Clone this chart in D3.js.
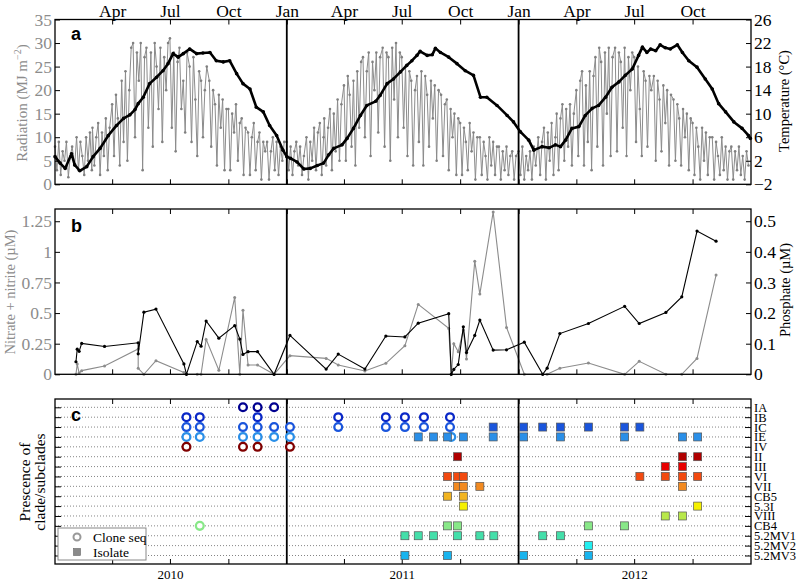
<!DOCTYPE html>
<html>
<head>
<meta charset="utf-8">
<script src="https://cdn.jsdelivr.net/npm/d3@7"></script>
<style>
body { margin: 0; background: #fff; }
text { font-family: "Liberation Serif", "Times New Roman", serif; }
</style>
</head>
<body>
<script>
// ---- data (days counted from 1 Jan 2010) ----
// radiation: 10 readings per month, every 3 days from the 1st
const rad2010 = [
  8,3,9,2,7,5,9,1.5,6,8,   4,10,3,9,6,2,10,5,11,3,   12,4,10,13,2,11,6,14,3,12,
  17,6,19,14,4,22,9,24,5,20,   29,30,10,28,22,30,3,27,29,12,   28,8,30,25,16,29,9,27,20,30,
  31,12,28,7,26,29,16,22,11,28,   25,9,27,18,6,24,22,10,20,25,   22,8,20,17,4,19,12,18,3,16,
  16,3,15,11,17,5,13,14,2,12,   11,2,10,13,3,9,11,1,9,7,   9,1,7,10,3,9,2,8,5,9];
const rad2011 = [
  9,3,8,2,7,9,4,8,2,6,   10,1,9,5,12,3,11,13,2,10,   14,4,12,16,3,15,7,18,5,17,
  21,5,23,19,8,22,4,24,12,26,   27,10,24,28,6,26,20,28,11,27,   29,8,28,27,5,29,18,30,10,28,
  27,12,25,6,24,22,4,20,23,9,   24,4,23,19,8,22,14,21,5,20,   19,6,17,18,3,16,10,15,2,14,
  13,2,12,9,3,13,7,11,1,10,   10,2,9,6,1,10,4,9,2,8,   8,1,7,3,8,2,6,7,1,6];
const rad2012 = [
  7,2,8,1,6,3,7,1,8,4,   10,2,9,12,1,11,5,13,2,10,   15,3,14,17,5,16,8,17,4,15,
  20,6,22,24,4,21,9,24,3,23,   27,8,29,26,4,28,15,29,6,27,   29,7,28,26,12,29,6,27,20,28,
  27,9,25,16,6,24,22,8,23,20,   23,5,22,18,7,21,13,20,4,19,   18,5,17,14,4,16,10,15,3,14,
  13,2,12,8,1,12,5,11,2,10,   10,1,9,6,2,10,3,8,1,7,   8,1,7,3,8,2,6,1,7,4];

const tempDays = [0,8,16,26,31,39,50,60,71,84,97,108,118,126,131,139,149,160,170,178,186,194,202,212,223,
  233,244,254,265,275,286,296,307,317,328,338,349,359,365,
  371,381,392,402,413,423,431,439,452,460,470,481,491,505,512,523,533,544,554,562,570,575,586,594,599,
  607,620,633,646,659,670,680,696,712,722,733,
  746,754,767,778,788,796,804,814,825,835,846,856,867,877,888,898,909,919,925,932,938,946,953,961,969,
  980,988,998,1011,1024,1035,1045,1056,1069,1082,1092,1095];
const tempValues = [2.7,1.6,0.7,3.2,1.3,0.3,1.0,2.7,4.1,6.3,8.0,9.2,9.8,10.7,11.7,12.8,15.1,16.2,17.3,18.5,20.2,19.6,20.2,21.0,20.2,
  20.3,20.4,19.0,18.8,19.0,16.8,15.1,14.2,11.1,10.3,8.0,6.3,3.8,2.7,
  2.4,1.8,0.6,0.7,1.2,1.6,3.0,4.1,4.7,5.8,7.5,9.7,11.4,12.1,13.1,15.1,15.9,17.1,18.2,19.0,19.9,20.6,19.9,20.0,21.1,
  20.4,19.6,18.5,17.3,16.5,12.8,12.8,11.4,9.7,8.6,6.9,
  5.5,3.8,4.4,4.2,4.7,4.4,5.5,7.5,7.8,9.7,10.9,11.4,12.8,14.5,15.4,16.5,17.6,19.9,21.3,20.4,21.0,20.7,21.7,21.2,21.0,
  21.7,20.4,19.0,17.9,15.9,14.2,11.7,10.3,8.6,7.5,6.3,5.8];

const nutrientDays = [33,35,38,42,78,131,131,140,159,203,207,224,230,238,258,283,291,296,304,319,345,370,
  427,446,488,521,551,572,620,624,628,635,643,648,661,669,690,711,739,768,775,795,840,897,920,962,987,1011,1041];
const phosphate = [0.041,0.082,0.075,0.101,0.091,0.103,0.067,0.203,0.213,0.034,0,0.107,0.092,0.174,0.118,0.159,0.115,
  0.065,0.074,0.074,0,0.127,0.017,0.066,0.017,0.125,0.122,0.167,0.198,0,0.016,0.032,0.155,0.071,0.127,0.177,0.079,
  0.080,0.105,0,0.02,0.133,0.166,0.222,0.166,0.202,0.253,0.468,0.435];
const nitrate = [0,0.084,0.01,0.03,0.068,0.207,0.049,0,0.111,0.014,0,0,0,0.285,0.033,0.628,0,0.524,0.076,0.076,0,
  0.152,0.130,0.076,0.027,0.090,0.234,0.571,0.375,0,0.25,0.185,0.361,0.125,0.924,0.655,1.326,0.383,0,0,0,0.049,
  0.092,0,0.106,0,0,0.130,0.81];

const clades = ["IA","IB","IC","IE","IV","II","III","VI","VII","CB5","5.3I","VIII","CB4","5.2MV1","5.2MV2","5.2MV3"];
const cladeColors = ["#000090","#0a28c8","#1a55dc","#2a8fe8","#800000","#b00000","#e80000","#f24a10","#f28a20",
  "#f2b420","#f5f000","#b8e84a","#88e888","#44dfaa","#22eef0","#18b4ee"];

const cloneSeq = [
  [296,"IA"],[319,"IA"],[345,"IA"],
  [207,"IB"],[228,"IB"],[319,"IB"],[446,"IB"],[521,"IB"],[551,"IB"],[581,"IB"],[622,"IB"],
  [207,"IC"],[228,"IC"],[296,"IC"],[319,"IC"],[345,"IC"],[370,"IC"],[446,"IC"],[521,"IC"],[551,"IC"],[581,"IC"],[622,"IC"],
  [207,"IE"],[228,"IE"],[296,"IE"],[319,"IE"],[345,"IE"],[370,"IE"],[624,"IE"],
  [207,"IV"],[296,"IV"],[319,"IV"],[370,"IV"],
  [228,"CB4"]];
const isolates = [
  [690,"IC"],[738,"IC"],[768,"IC"],[796,"IC"],[840,"IC"],[897,"IC"],[921,"IC"],
  [572,"IE"],[596,"IE"],[618,"IE"],[643,"IE"],[690,"IE"],[738,"IE"],[796,"IE"],[897,"IE"],[988,"IE"],[1012,"IE"],
  [634,"II"],[988,"II"],[1012,"II"],
  [961,"III"],[988,"III"],
  [618,"VI"],[634,"VI"],[643,"VI"],[921,"VI"],[961,"VI"],[988,"VI"],[1012,"VI"],
  [634,"VII"],[643,"VII"],[669,"VII"],[988,"VII"],
  [618,"CB5"],[643,"CB5"],
  [643,"5.3I"],[1012,"5.3I"],
  [961,"VIII"],[988,"VIII"],
  [618,"CB4"],[634,"CB4"],[840,"CB4"],[897,"CB4"],
  [551,"5.2MV1"],[572,"5.2MV1"],[596,"5.2MV1"],[634,"5.2MV1"],[669,"5.2MV1"],[691,"5.2MV1"],[768,"5.2MV1"],[796,"5.2MV1"],
  [840,"5.2MV2"],
  [551,"5.2MV3"],[618,"5.2MV3"],[738,"5.2MV3"],[840,"5.2MV3"]];

// ---- layout ----
const W = 798, H = 581, L = 55, R = 751;
const pa = {top: 19.5, bottom: 184.3}, pb = {top: 209, bottom: 374.3}, pc = {top: 399, bottom: 564};
const GRAY = "#8c8c8c";

const day = d => new Date(2010, 0, 1 + d);
const x = d3.scaleTime().domain([new Date(2010,0,1), new Date(2013,0,1)]).range([L, R]);

const monthTicks = [], janLines = [new Date(2011,0,1), new Date(2012,0,1)];
[2010, 2011, 2012].forEach(y => {
  if (y > 2010) monthTicks.push(new Date(y, 0, 1));
  [3, 6, 9].forEach(m => monthTicks.push(new Date(y, m, 1)));
});

const svg = d3.select("body").append("svg").attr("width", W).attr("height", H);

// radiation series
const radiation = [];
[[2010, rad2010], [2011, rad2011], [2012, rad2012]].forEach(([yr, vals]) => {
  vals.forEach((v, i) => radiation.push({date: new Date(yr, Math.floor(i / 10), 1 + 3 * (i % 10)), v: v}));
});
const temperature = tempDays.map((d, i) => ({date: day(d), v: tempValues[i]}));
const nutrients = nutrientDays.map((d, i) => ({date: day(d), p: phosphate[i], n: nitrate[i]}));

function styleAxis(g, size, color) {
  g.select(".domain").remove();
  g.selectAll("line").attr("stroke", "#000");
  g.selectAll("text").attr("font-size", size).attr("fill", color || "#000")
    .attr("font-family", "Liberation Serif, serif");
}

function timeFrame(p, topLabels, bottomLabels) {
  const top = svg.append("g").attr("transform", `translate(0,${p.top})`)
    .call(d3.axisTop(x).tickValues(monthTicks).tickSize(-5).tickPadding(3)
      .tickFormat(topLabels ? d3.timeFormat("%b") : ""));
  styleAxis(top, 17.5);
  const ticksB = bottomLabels ? monthTicks.filter(d => d.getMonth() !== 0) : monthTicks;
  const bot = svg.append("g").attr("transform", `translate(0,${p.bottom})`)
    .call(d3.axisBottom(x).tickValues(ticksB).tickSize(-5).tickPadding(6)
      .tickFormat(bottomLabels ? (d => d.getMonth() === 6 ? d.getFullYear() : "") : ""));
  styleAxis(bot, 13);
  svg.append("g").selectAll("line").data(janLines).join("line")
    .attr("x1", d => x(d)).attr("x2", d => x(d)).attr("y1", p.top).attr("y2", p.bottom)
    .attr("stroke", "#000").attr("stroke-width", 1.8);
}

function border(p) {
  svg.append("rect").attr("x", L).attr("y", p.top).attr("width", R - L).attr("height", p.bottom - p.top)
    .attr("fill", "none").attr("stroke", "#000").attr("stroke-width", 1.3);
}

function panelLetter(t, yb) {
  svg.append("text").attr("x", 71).attr("y", yb).text(t)
    .style("font-family", "Liberation Sans, Arial, sans-serif").attr("font-weight", "bold").attr("font-size", 18);
}

function vLabel(xp, yc, size, color) {
  return svg.append("text").attr("transform", `translate(${xp},${yc}) rotate(-90)`)
    .attr("text-anchor", "middle").attr("font-size", size).attr("fill", color);
}

// ---- panel a ----
const yRad = d3.scaleLinear().domain([0, 35]).range([pa.bottom, pa.top]);
const yTemp = d3.scaleLinear().domain([-2, 26]).range([pa.bottom, pa.top]);

const radLine = d3.line().x(d => x(d.date)).y(d => yRad(d.v));
svg.append("path").datum(radiation).attr("d", radLine).attr("fill", "none")
  .attr("stroke", GRAY).attr("stroke-width", 1);
svg.append("g").selectAll("circle").data(radiation).join("circle")
  .attr("cx", d => x(d.date)).attr("cy", d => yRad(d.v)).attr("r", 1.3).attr("fill", "#808080");

const tempLine = d3.line().x(d => x(d.date)).y(d => yTemp(d.v));
svg.append("path").datum(temperature).attr("d", tempLine).attr("fill", "none")
  .attr("stroke", "#000").attr("stroke-width", 2.6).attr("stroke-linejoin", "round");
svg.append("g").selectAll("circle").data(temperature).join("circle")
  .attr("cx", d => x(d.date)).attr("cy", d => yTemp(d.v)).attr("r", 1.8).attr("fill", "#000");

timeFrame(pa, true, false);
styleAxis(svg.append("g").attr("transform", `translate(${L},0)`)
  .call(d3.axisLeft(yRad).tickValues(d3.range(0, 36, 5)).tickSize(-5).tickPadding(3)), 17.5, GRAY);
styleAxis(svg.append("g").attr("transform", `translate(${R},0)`)
  .call(d3.axisRight(yTemp).tickValues(d3.range(-2, 27, 4)).tickSize(-5).tickPadding(3)), 17.5, "#000");
border(pa);
panelLetter("a", 40);

const radLab = vLabel(27, 103, 15, GRAY);
radLab.append("tspan").text("Radiation (MJ m");
radLab.append("tspan").attr("font-size", 10).attr("dy", -6).text("\u22122");
radLab.append("tspan").attr("dy", 6).text(")");
vLabel(789, 101, 14.5, "#000").text("Temperature (\u00B0C)");

// ---- panel b ----
const yNit = d3.scaleLinear().domain([0, 1.35]).range([pb.bottom, pb.top]);
const yPhos = d3.scaleLinear().domain([0, 0.54]).range([pb.bottom, pb.top]);

svg.append("path").datum(nutrients).attr("fill", "none").attr("stroke", GRAY).attr("stroke-width", 1.1)
  .attr("d", d3.line().x(d => x(d.date)).y(d => yNit(d.n)));
svg.append("g").selectAll("circle").data(nutrients).join("circle")
  .attr("cx", d => x(d.date)).attr("cy", d => yNit(d.n)).attr("r", 1.5).attr("fill", GRAY);
svg.append("path").datum(nutrients).attr("fill", "none").attr("stroke", "#000").attr("stroke-width", 1.1)
  .attr("d", d3.line().x(d => x(d.date)).y(d => yPhos(d.p)));
svg.append("g").selectAll("circle").data(nutrients).join("circle")
  .attr("cx", d => x(d.date)).attr("cy", d => yPhos(d.p)).attr("r", 1.6).attr("fill", "#000");

timeFrame(pb, false, false);
styleAxis(svg.append("g").attr("transform", `translate(${L},0)`)
  .call(d3.axisLeft(yNit).tickValues([0, 0.25, 0.5, 0.75, 1, 1.25]).tickFormat(d => String(d))
    .tickSize(-5).tickPadding(3)), 17.5, GRAY);
styleAxis(svg.append("g").attr("transform", `translate(${R},0)`)
  .call(d3.axisRight(yPhos).tickValues([0, 0.1, 0.2, 0.3, 0.4, 0.5]).tickFormat(d => String(d))
    .tickSize(-5).tickPadding(3)), 17.5, "#000");
border(pb);
panelLetter("b", 231.5);
vLabel(15, 292, 14.5, GRAY).text("Nitrate + nitrite (\u00B5M)");
vLabel(790, 290, 14.5, "#000").text("Phosphate (\u00B5M)");

// ---- panel c ----
const yRow = d3.scalePoint().domain(clades).range([407.3, 555.5]);
const color = d3.scaleOrdinal().domain(clades).range(cladeColors);

svg.append("g").selectAll("line").data(clades).join("line")
  .attr("x1", L).attr("x2", R).attr("y1", d => yRow(d)).attr("y2", d => yRow(d))
  .attr("stroke", "#666").attr("stroke-width", 0.8).attr("stroke-dasharray", "1,2");

timeFrame(pc, false, true);
styleAxis(svg.append("g").attr("transform", `translate(${L},0)`)
  .call(d3.axisLeft(yRow).tickSize(-6).tickFormat("")), 12);
styleAxis(svg.append("g").attr("transform", `translate(${R},0)`)
  .call(d3.axisRight(yRow).tickSize(-6).tickPadding(3)), 12.5, "#000");

svg.append("g").selectAll("circle").data(cloneSeq).join("circle")
  .attr("cx", d => x(day(d[0]))).attr("cy", d => yRow(d[1])).attr("r", 3.9)
  .attr("fill", "#fff").attr("stroke", d => color(d[1])).attr("stroke-width", 2.3);
svg.append("g").selectAll("rect").data(isolates).join("rect")
  .attr("x", d => x(day(d[0])) - 4).attr("y", d => yRow(d[1]) - 4).attr("width", 8).attr("height", 8)
  .attr("fill", d => color(d[1])).attr("stroke", "#555").attr("stroke-width", 0.7);

border(pc);
panelLetter("c", 421);

const lab = svg.append("text").attr("transform", "translate(30,482) rotate(-90)")
  .attr("text-anchor", "middle").attr("font-size", 15.5);
lab.append("tspan").attr("x", 0).text("Prescence of");
lab.append("tspan").attr("x", 0).attr("dy", 15).text("clade/subclades");

// legend
const lg = svg.append("g").attr("transform", "translate(58,528)");
lg.append("rect").attr("width", 88).attr("height", 32).attr("fill", "#fff").attr("stroke", "#888");
lg.append("circle").attr("cx", 19).attr("cy", 9).attr("r", 3.5).attr("fill", "#fff")
  .attr("stroke", "#999").attr("stroke-width", 2);
lg.append("rect").attr("x", 15.5).attr("y", 20.5).attr("width", 7).attr("height", 7)
  .attr("fill", "#8a8a8a").attr("stroke", "#666").attr("stroke-width", 0.6);
lg.append("text").attr("x", 35).attr("y", 13.5).attr("font-size", 13.5).text("Clone seq");
lg.append("text").attr("x", 35).attr("y", 28.5).attr("font-size", 13.5).text("Isolate");
</script>
</body>
</html>
